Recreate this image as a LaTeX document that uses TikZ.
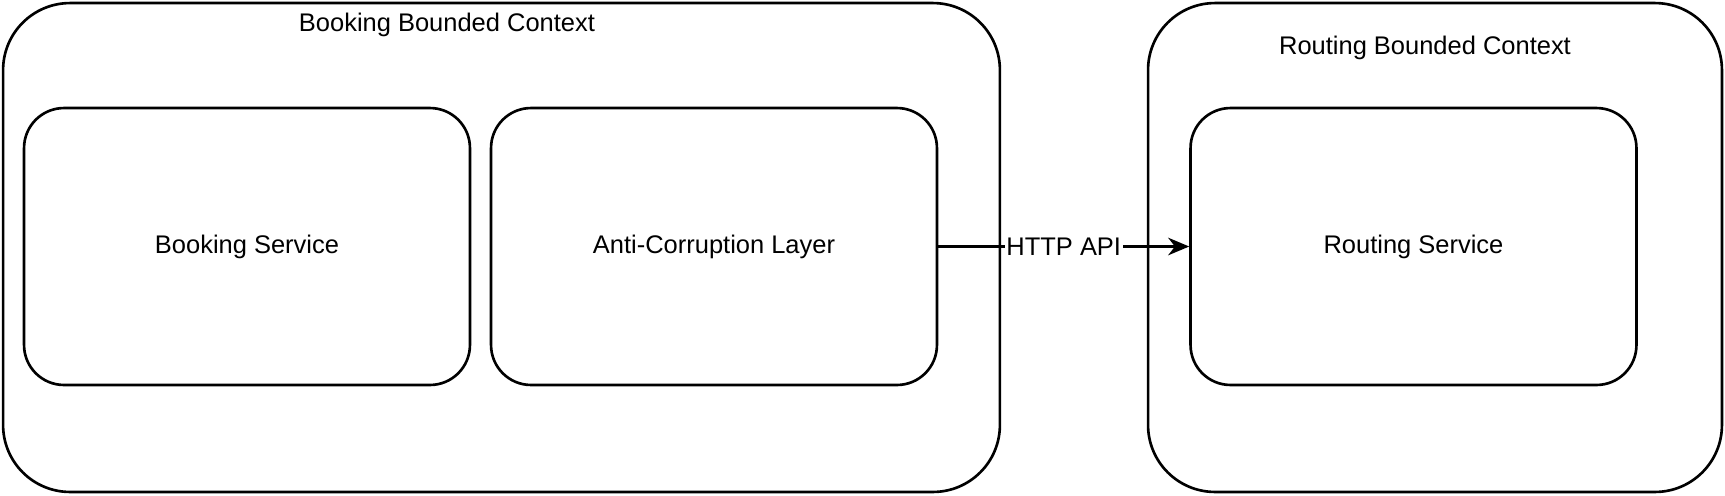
\documentclass[tikz,border=0pt]{standalone}
\usepackage{fontspec}
\setmainfont{Liberation Sans}
\usetikzlibrary{arrows.meta}

\tikzset{
  context/.style={draw, line width=1.5pt, rounded corners=1.34cm, inner sep=0pt},
  service/.style={draw, line width=1.5pt, rounded corners=0.8cm, inner sep=0pt,
    minimum width=8.92cm, minimum height=5.54cm},
  txt/.style={font=\fontsize{14.5}{17}\selectfont},
}

\begin{document}
\begin{tikzpicture}[x=0.02cm, y=-0.02cm, every node/.style={txt}]
    \useasboundingbox (0,0) rectangle (1725,495);
    % bounded contexts
    \node[context, minimum width=19.94cm, minimum height=9.78cm] (booking ctx) at (501.5,247.5) {};
    \node[context, minimum width=11.48cm, minimum height=9.78cm] (routing ctx) at (1435,247.5) {};
    \node (booking ctx label) at (447,25) {Booking Bounded Context};
    \node (routing ctx label) at (1425,48) {Routing Bounded Context};
    % services
    \node[service] (booking) at (247,246.5) {Booking Service};
    \node[service] (acl) at (714,246.5) {Anti-Corruption Layer};
    \node[service] (routing) at (1413.5,246.5) {Routing Service};
    \draw[line width=1.5pt, -{Stealth[length=12pt, width=10pt]}] (acl.east) -- node[fill=white, inner sep=1pt] {HTTP API} (routing.west);
\end{tikzpicture}
\end{document}
